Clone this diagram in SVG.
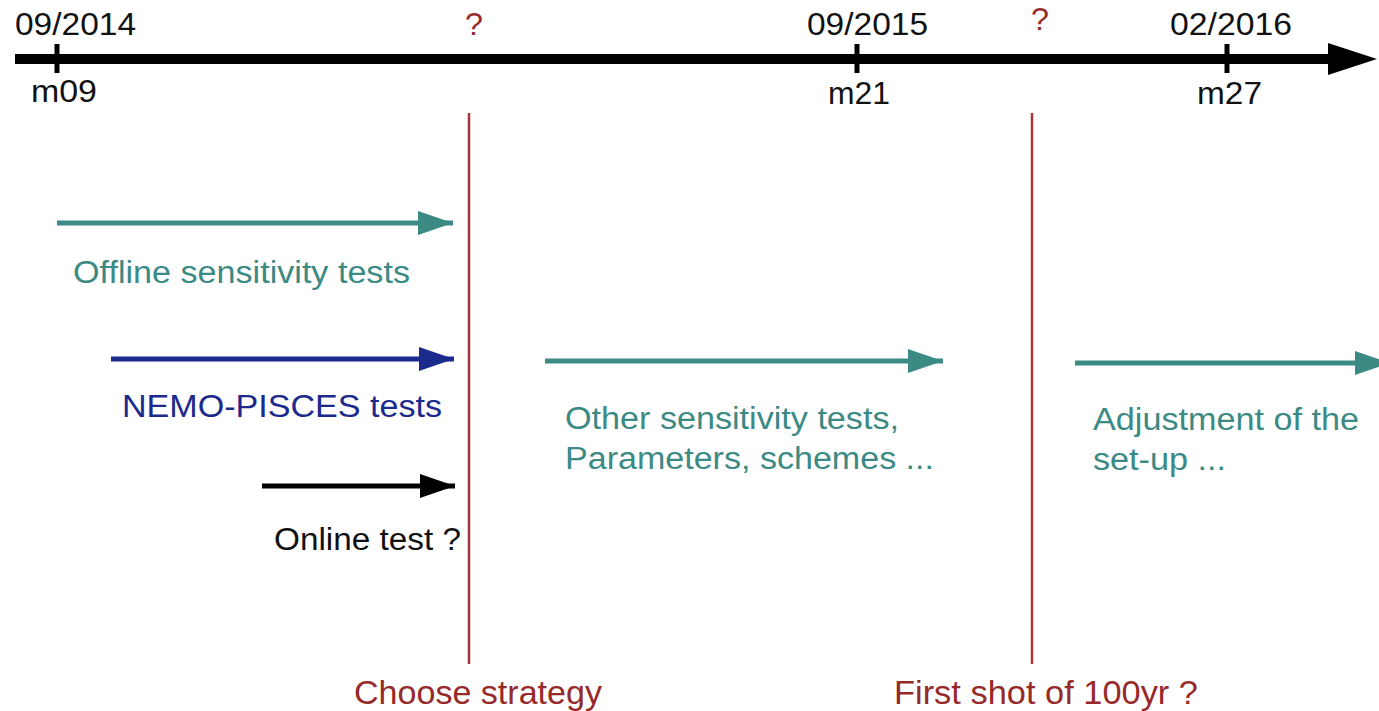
<svg xmlns="http://www.w3.org/2000/svg" width="1379" height="711" viewBox="0 0 1379 711">
<style>
text{font-family:"Liberation Sans",Arial,sans-serif;font-size:31px}
.k{fill:#111}
.t{fill:#3b8a84}
.b{fill:#1b2a8c}
.r{fill:#962a2a}
.big{font-size:33px}
.ln{fill:none;stroke-width:5}
</style>
<defs>
<marker id="ahT" viewBox="0 0 35 24" refX="35" refY="12" markerWidth="35" markerHeight="24" markerUnits="userSpaceOnUse" orient="auto"><path d="M0,0 L35,12 L0,24 Z" fill="#3b8a84"/></marker>
<marker id="ahB" viewBox="0 0 35 24" refX="35" refY="12" markerWidth="35" markerHeight="24" markerUnits="userSpaceOnUse" orient="auto"><path d="M0,0 L35,12 L0,24 Z" fill="#1b2a8c"/></marker>
<marker id="ahK" viewBox="0 0 35 24" refX="35" refY="12" markerWidth="35" markerHeight="24" markerUnits="userSpaceOnUse" orient="auto"><path d="M0,0 L35,12 L0,24 Z" fill="#000"/></marker>
</defs>
<rect width="1379" height="711" fill="#fff"/>
<g id="timeline">
<line x1="15" y1="59" x2="1332" y2="59" stroke="#000" stroke-width="10"/>
<path d="M1328,43 L1377,59 L1328,75 Z" fill="#000"/>
<line x1="57" y1="44" x2="57" y2="73" stroke="#000" stroke-width="5"/>
<line x1="857" y1="44" x2="857" y2="73" stroke="#000" stroke-width="5"/>
<line x1="1227" y1="44" x2="1227" y2="73" stroke="#000" stroke-width="5"/>
<text class="k" x="15" y="35" textLength="121" lengthAdjust="spacingAndGlyphs">09/2014</text>
<text class="k" x="31" y="102" textLength="66" lengthAdjust="spacingAndGlyphs">m09</text>
<text class="k" x="807" y="35" textLength="121" lengthAdjust="spacingAndGlyphs">09/2015</text>
<text class="k" x="828" y="104" textLength="62" lengthAdjust="spacingAndGlyphs">m21</text>
<text class="k" x="1170" y="35" textLength="122" lengthAdjust="spacingAndGlyphs">02/2016</text>
<text class="k" x="1197" y="104" textLength="65" lengthAdjust="spacingAndGlyphs">m27</text>
<text class="r" x="465" y="35" textLength="18" lengthAdjust="spacingAndGlyphs">?</text>
<text class="r" x="1031" y="30" textLength="18" lengthAdjust="spacingAndGlyphs">?</text>
</g>
<g id="milestone-strategy">
<line x1="469" y1="113" x2="469" y2="664" stroke="#a3373a" stroke-width="2.5"/>
<text class="r big" x="354" y="704" textLength="248" lengthAdjust="spacingAndGlyphs">Choose strategy</text>
</g>
<g id="milestone-100yr">
<line x1="1032" y1="113" x2="1032" y2="664" stroke="#a3373a" stroke-width="2.5"/>
<text class="r big" x="894" y="704" textLength="304" lengthAdjust="spacingAndGlyphs">First shot of 100yr ?</text>
</g>
<g id="connectors">
<line class="ln" x1="57" y1="223" x2="453" y2="223" stroke="#3b8a84" marker-end="url(#ahT)"/>
<line class="ln" x1="111" y1="359" x2="454" y2="359" stroke="#1b2a8c" marker-end="url(#ahB)"/>
<line class="ln" x1="262" y1="486" x2="455" y2="486" stroke="#000" marker-end="url(#ahK)"/>
<line class="ln" x1="545" y1="361" x2="943" y2="361" stroke="#3b8a84" marker-end="url(#ahT)"/>
<line class="ln" x1="1075" y1="363" x2="1390" y2="363" stroke="#3b8a84" marker-end="url(#ahT)"/>
</g>
<g id="offline">
<text class="t" x="73" y="283" textLength="337" lengthAdjust="spacingAndGlyphs">Offline sensitivity tests</text>
</g>
<g id="nemo">
<text class="b" x="122" y="417" textLength="320" lengthAdjust="spacingAndGlyphs">NEMO-PISCES tests</text>
</g>
<g id="online">
<text class="k" x="274" y="550" textLength="187" lengthAdjust="spacingAndGlyphs">Online test ?</text>
</g>
<g id="other">
<text class="t" x="565" y="429" textLength="334" lengthAdjust="spacingAndGlyphs">Other sensitivity tests,</text>
<text class="t" x="565" y="469" textLength="369" lengthAdjust="spacingAndGlyphs">Parameters, schemes ...</text>
</g>
<g id="adjust">
<text class="t" x="1093" y="430" textLength="266" lengthAdjust="spacingAndGlyphs">Adjustment of the</text>
<text class="t" x="1093" y="470" textLength="133" lengthAdjust="spacingAndGlyphs">set-up ...</text>
</g>
</svg>
